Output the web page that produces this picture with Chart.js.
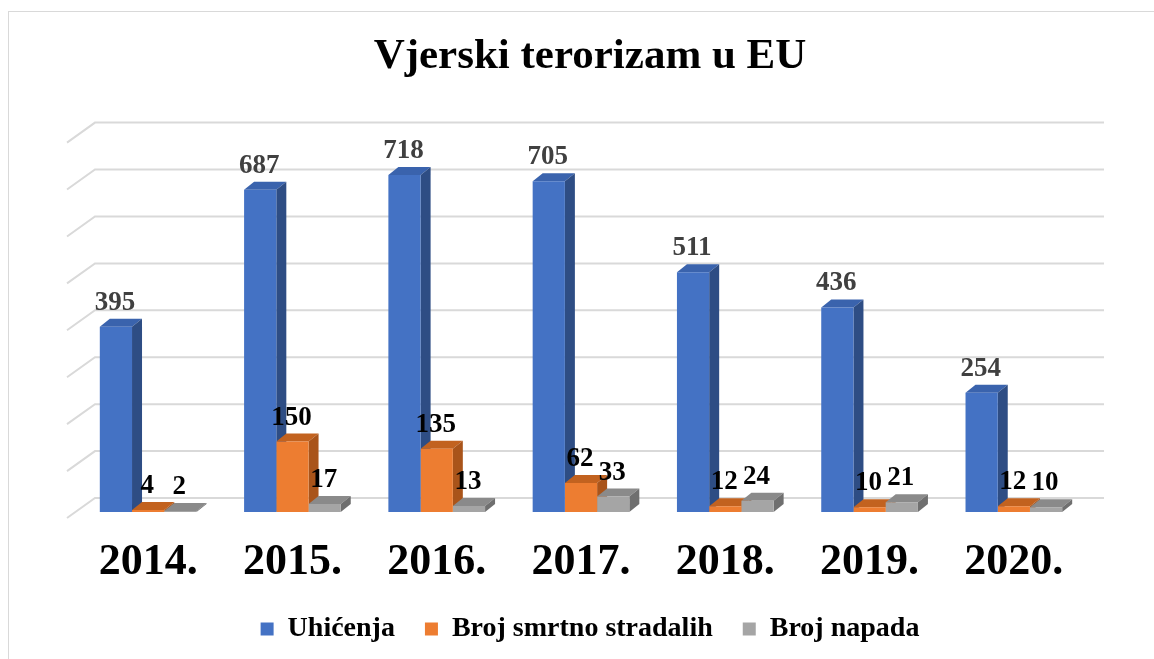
<!DOCTYPE html>
<html>
<head>
<meta charset="utf-8">
<script src="https://cdn.jsdelivr.net/npm/chart.js@4"></script>
<style>
  html, body { margin: 0; padding: 0; background: #fff; overflow: hidden; }
  .frame { position: absolute; left: 8px; top: 11px; width: 1200px; height: 700px; border: 1px solid #d9d9d9; }
  #terorChart { position: absolute; left: 0; top: 0; }
</style>
</head>
<body>
<div class="frame"></div>
<canvas id="terorChart" width="1154" height="659"></canvas>
<script>
const years = ['2014.', '2015.', '2016.', '2017.', '2018.', '2019.', '2020.'];
const uhicenja = [395, 687, 718, 705, 511, 436, 254];
const smrtnoStradalih = [4, 150, 135, 62, 12, 10, 12];
const brojNapada = [2, 17, 13, 33, 24, 21, 10];
const yMax = 800;
const yStep = 100;

const frontColors = ['#4472c4', '#ed7d31', '#a5a5a5'];
const topColors = ['#3a63ad', '#c2621f', '#8a8a8a'];
const sideColors = ['#2e4d84', '#a9541a', '#6f6f6f'];
const labelColors = ['#404040', '#000000', '#000000'];

// bar depth and wall depth, in pixels
const barDepth = { dx: 10, dy: 8 };

const fake3d = {
  id: 'fake3d',
  beforeDatasetsDraw(chart) {
    const { ctx, chartArea, scales: { y } } = chart;
    ctx.save();
    ctx.strokeStyle = '#d9d9d9';
    ctx.lineWidth = 2;
    y.ticks.forEach((t) => {
      const py = y.getPixelForValue(t.value);
      ctx.beginPath();
      ctx.moveTo(chartArea.left - 9, py + 6);
      ctx.lineTo(chartArea.left + 19, py - 14);
      ctx.lineTo(chartArea.right + 18, py - 14);
      ctx.stroke();
    });
    const { dx, dy } = barDepth;
    chart.data.labels.forEach((_, i) => {
      chart.data.datasets.forEach((ds, d) => {
        const bar = chart.getDatasetMeta(d).data[i];
        const l = bar.x - bar.width / 2;
        const r = bar.x + bar.width / 2;
        const top = bar.y;
        const base = bar.base;
        ctx.fillStyle = topColors[d];
        ctx.beginPath();
        ctx.moveTo(l, top);
        ctx.lineTo(l + dx, top - dy);
        ctx.lineTo(r + dx, top - dy);
        ctx.lineTo(r, top);
        ctx.closePath();
        ctx.fill();
        ctx.fillStyle = sideColors[d];
        ctx.beginPath();
        ctx.moveTo(r, top);
        ctx.lineTo(r + dx, top - dy);
        ctx.lineTo(r + dx, base - dy);
        ctx.lineTo(r, base);
        ctx.closePath();
        ctx.fill();
      });
    });
    ctx.restore();
  },
  afterDatasetsDraw(chart) {
    const { ctx } = chart;
    ctx.save();
    ctx.font = 'bold 27px "Liberation Serif"';
    ctx.textAlign = 'center';
    ctx.textBaseline = 'alphabetic';
    chart.data.datasets.forEach((ds, d) => {
      chart.getDatasetMeta(d).data.forEach((bar, i) => {
        ctx.fillStyle = labelColors[d];
        ctx.fillText(String(ds.data[i]), bar.x - 1, bar.y - 17);
      });
    });
    ctx.restore();
  }
};

Chart.defaults.font.family = '"Liberation Serif", "Times New Roman", serif';

new Chart(document.getElementById('terorChart'), {
  type: 'bar',
  data: {
    labels: years,
    datasets: [
      { label: 'Uhićenja', data: uhicenja, backgroundColor: frontColors[0] },
      { label: 'Broj smrtno stradalih', data: smrtnoStradalih, backgroundColor: frontColors[1] },
      { label: 'Broj napada', data: brojNapada, backgroundColor: frontColors[2] }
    ]
  },
  options: {
    responsive: false,
    animation: false,
    layout: { padding: { left: 76, right: 50, top: 0, bottom: 6 } },
    datasets: { bar: { categoryPercentage: 0.67, barPercentage: 1, borderWidth: 0 } },
    scales: {
      x: {
        grid: { display: false, drawTicks: false },
        border: { display: false },
        ticks: { color: '#000', padding: 29, font: { size: 44, weight: 'bold', lineHeight: 1 } },
        afterFit: (s) => { s.height = 73; }
      },
      y: {
        position: 'right',
        min: 0,
        max: yMax,
        grid: { display: false, drawTicks: false },
        border: { display: false },
        ticks: { display: false, stepSize: yStep },
        afterFit: (s) => { s.width = 18; }
      }
    },
    plugins: {
      title: {
        display: true,
        text: 'Vjerski terorizam u EU',
        color: '#000',
        font: { size: 43, weight: 'bold', lineHeight: 1.2 },
        padding: { top: 31, bottom: 54 }
      },
      legend: {
        position: 'bottom',
        labels: { color: '#000', boxWidth: 13, boxHeight: 13, padding: 30, font: { size: 28, weight: 'bold' } }
      },
      tooltip: { enabled: false }
    }
  },
  plugins: [fake3d]
});
</script>
</body>
</html>
